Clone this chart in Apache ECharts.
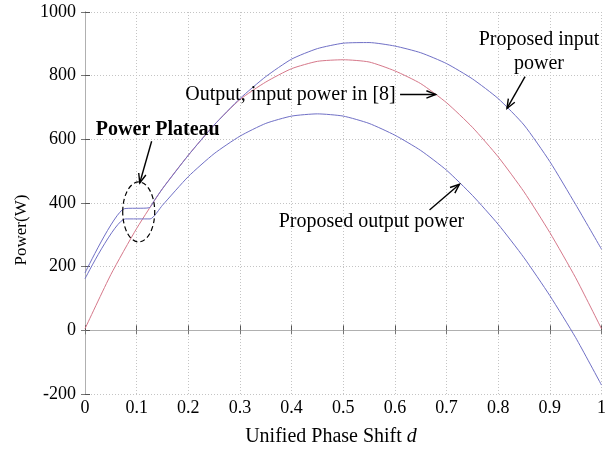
<!DOCTYPE html>
<html><head><meta charset="utf-8">
<script src="https://cdn.jsdelivr.net/npm/echarts@6/dist/echarts.min.js"></script>
<style>html,body{margin:0;padding:0;background:#fff}#c{width:609px;height:453px}</style>
</head><body><div id="c"></div>
<script>
// ---- data ----
const xTickLabels = ['0','0.1','0.2','0.3','0.4','0.5','0.6','0.7','0.8','0.9','1'];
const yTickLabels = ['-200','0','200','400','600','800','1000'];

// Proposed input power (upper blue)
const dIn = [0, 0.076, 0.124, 0.135, 0.15, 0.2, 0.25, 0.3, 0.35, 0.4, 0.45, 0.5, 0.55, 0.6, 0.65, 0.7, 0.75, 0.8, 0.85, 0.9, 0.95, 1.0];
const pIn = [180, 382, 385, 410, 445, 550, 645, 728, 797, 852, 885, 902, 904, 893, 872, 838, 790, 728, 645, 530, 395, 255];

// Output, input power in [8] (red)
const dRef = [0, 0.05, 0.1, 0.15, 0.2, 0.25, 0.3, 0.35, 0.4, 0.45, 0.5, 0.55, 0.6, 0.65, 0.7, 0.75, 0.8, 0.85, 0.9, 0.95, 1.0];
const pRef = [5, 175, 320, 445, 550, 645, 725, 780, 822, 845, 850, 843, 815, 775, 715, 638, 545, 435, 307, 165, 5];

// Proposed output power (lower blue)
const dOut = [0, 0.078, 0.126, 0.15, 0.2, 0.25, 0.3, 0.35, 0.4, 0.45, 0.5, 0.55, 0.6, 0.65, 0.7, 0.75, 0.8, 0.85, 0.9, 0.95, 1.0];
const pOut = [162, 350, 350, 393, 483, 555, 610, 650, 673, 680, 673, 650, 613, 565, 503, 424, 333, 228, 109, -23, -172];

// ---- chart ----
const FONT = '"Times New Roman","Liberation Serif",serif';
const BLUE = '#7070c6';
const RED = '#d6788a';
const pair = (xs, ys) => xs.map((x, i) => [x, ys[i]]);

const chart = echarts.init(document.getElementById('c'), null, {renderer: 'canvas'});

const axisCommon = {
  axisLine: {show: true, lineStyle: {color: '#8a8a8a', width: 1}},
  axisTick: {show: true, inside: true, length: 5, lineStyle: {color: '#555'}},
};
const lineCommon = {type: 'line', showSymbol: false, smooth: 0.2};

chart.setOption({
  animation: false,
  backgroundColor: '#fff',
  grid: {left: 85, right: 4, top: 12, bottom: 59, containLabel: false},
  xAxis: [{
    type: 'value', min: 0, max: 1, interval: 0.1, position: 'bottom',
    ...axisCommon,
    axisLabel: {color: '#000', fontFamily: FONT, fontSize: 18, margin: 5,
      formatter: v => xTickLabels[Math.round(v * 10)]},
    splitLine: {show: true, lineStyle: {color: '#c4c4c4', type: [1, 2], width: 1}}
  }, {
    type: 'value', min: 0, max: 1, interval: 0.1, position: 'top',
    axisLine: {show: true, lineStyle: {color: '#b0b0b0'}},
    axisTick: {show: true, inside: true, length: 4, lineStyle: {color: '#777'}},
    axisLabel: {show: false}, splitLine: {show: false}
  }],
  yAxis: [{
    type: 'value', min: -200, max: 1000, interval: 200, position: 'left',
    ...axisCommon,
    axisLabel: {color: '#000', fontFamily: FONT, fontSize: 18, margin: 9,
      formatter: v => yTickLabels[Math.round((v + 200) / 200)]},
    splitLine: {show: true, lineStyle: {color: '#c4c4c4', type: [1, 2], width: 1}}
  }, {
    type: 'value', min: -200, max: 1000, interval: 200, position: 'right',
    axisLine: {show: true, lineStyle: {color: '#b0b0b0'}},
    axisTick: {show: true, inside: true, length: 4, lineStyle: {color: '#777'}},
    axisLabel: {show: false}, splitLine: {show: false}
  }],
  series: [
    {...lineCommon, name: 'Output, input power in [8]', data: pair(dRef, pRef),
      lineStyle: {color: RED, width: 1}, itemStyle: {color: RED}, z: 2},
    {...lineCommon, name: 'Proposed input power', data: pair(dIn, pIn),
      lineStyle: {color: BLUE, width: 1}, itemStyle: {color: BLUE}, z: 3},
    {...lineCommon, name: 'Proposed output power', data: pair(dOut, pOut),
      lineStyle: {color: BLUE, width: 1}, itemStyle: {color: BLUE}, z: 3}
  ]
});

// ---- annotations (anchored in data space) ----
const px = (d, p) => chart.convertToPixel({xAxisIndex: 0, yAxisIndex: 0}, [d, p]);
function arrow(from, to) {
  const a = px(from[0], from[1]), b = px(to[0], to[1]);
  const ang = Math.atan2(b[1] - a[1], b[0] - a[0]);
  const L = 10, s = 0.38;
  const h1 = [b[0] - L * Math.cos(ang - s), b[1] - L * Math.sin(ang - s)];
  const h2 = [b[0] - L * Math.cos(ang + s), b[1] - L * Math.sin(ang + s)];
  return [
    {type: 'line', shape: {x1: a[0], y1: a[1], x2: b[0], y2: b[1]}, style: {stroke: '#000', lineWidth: 1.4}, z: 10},
    {type: 'polyline', shape: {points: [h1, b, h2]}, style: {stroke: '#000', lineWidth: 1.4, fill: null}, z: 10}
  ];
}
function label(text, d, p, align, opts) {
  const q = px(d, p);
  return {type: 'text', x: q[0], y: q[1], z: 10,
    style: Object.assign({text: text, fill: '#000', fontFamily: FONT, fontSize: 20,
      align: align, verticalAlign: 'middle', lineHeight: 24}, opts || {})};
}
const ec = px(0.104, 372);
const graphics = [
  // axis titles
  {type: 'text', x: 331, y: 437, z: 10,
    style: {text: 'Unified Phase Shift {i|d}', fill: '#000', fontFamily: FONT, fontSize: 20,
      align: 'center', verticalAlign: 'middle',
      rich: {i: {fontStyle: 'italic', fontFamily: FONT, fontSize: 20, fill: '#000'}}}},
  {type: 'text', x: 22, y: 230, rotation: Math.PI / 2, z: 10,
    style: {text: 'Power(W)', fill: '#000', fontFamily: FONT, fontSize: 17,
      align: 'center', verticalAlign: 'middle'}},
  // annotations
  label('Proposed input\npower', 0.879, 875, 'center'),
  ...arrow([0.852, 797], [0.817, 697]),
  label('Output, input power in [8]', 0.194, 741, 'left'),
  ...arrow([0.61, 741], [0.679, 741]),
  label('Proposed output power', 0.375, 341, 'left'),
  ...arrow([0.667, 378], [0.725, 459]),
  label('Power Plateau', 0.021, 631, 'left', {fontWeight: 'bold', fontSize: 20}),
  ...arrow([0.129, 594], [0.106, 463]),
  {type: 'ellipse', shape: {cx: ec[0], cy: ec[1], rx: 16, ry: 30}, z: 10,
    style: {stroke: '#000', lineWidth: 1.2, fill: null, lineDash: [5, 3]}}
];
chart.setOption({graphic: graphics});
</script>
</body></html>
